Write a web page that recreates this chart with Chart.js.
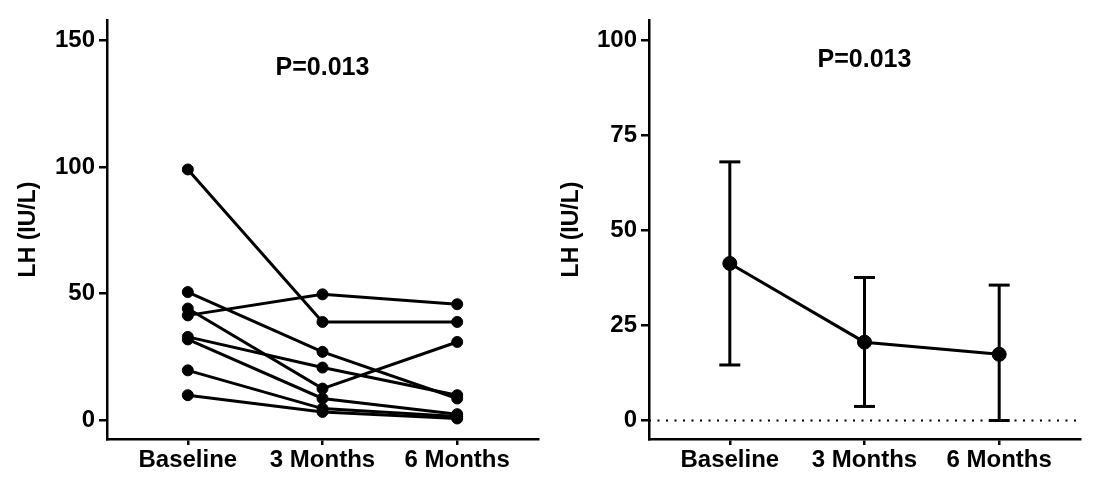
<!DOCTYPE html>
<html><head><meta charset="utf-8">
<script src="https://cdn.jsdelivr.net/npm/chart.js@4.4.1/dist/chart.umd.min.js"></script>
<style>
html,body{margin:0;padding:0;background:#fff;width:1100px;height:495px;overflow:hidden}
.p{position:absolute;top:0;width:550px;height:495px}
canvas{display:block}
</style></head><body>
<div class="p" style="left:0"><canvas id="c1" width="550" height="495"></canvas></div>
<div class="p" style="left:550px"><canvas id="c2" width="550" height="495"></canvas></div>
<script>
// ---- data ----
const categories = ['Baseline', '3 Months', '6 Months'];
const subject1 = [99.0, 38.8, 38.8];
const subject2 = [41.4, 49.7, 45.8];
const subject3 = [50.6, 27.0, 8.6];
const subject4 = [32.9, 20.8, 9.9];
const subject5 = [44.1, 12.5, 30.9];
const subject6 = [31.9, 8.6, 2.4];
const subject7 = [19.7, 4.6, 1.5];
const subject8 = [9.9, 3.3, 0.7];
const subjects = [subject1, subject2, subject3, subject4, subject5, subject6, subject7, subject8];

const meanLH = [41.3, 20.6, 17.4];
const errUpper = [68.0, 37.6, 35.6];
const errLower = [14.6, 3.7, 0.0];

const leftTicks = [0, 50, 100, 150];
const rightTicks = [0, 25, 50, 75, 100];
const yTitle = 'LH (IU/L)';
const pLabel = 'P=0.013';

// ---- styling / helpers ----
const FONT = '"Liberation Sans", Arial, Helvetica, sans-serif';
const BLACK = '#000';

const pTextPlugin = {
  id: 'pText',
  afterDraw(chart, args, opts) {
    const ctx = chart.ctx;
    const x = chart.scales.x.getPixelForValue(1);
    ctx.save();
    ctx.font = 'bold 25px ' + FONT;
    ctx.fillStyle = BLACK;
    ctx.textAlign = 'center';
    ctx.textBaseline = 'middle';
    ctx.fillText(opts.text, x, opts.y);
    ctx.restore();
  }
};

function toPoints(arr) { return arr.map((v, i) => ({x: i, y: v})); }

function makeScales(yMin, yMax, yTicks, yWidth, titlePad) {
  return {
    x: {
      type: 'linear', min: -0.6, max: 2.6,
      afterBuildTicks: s => { s.ticks = categories.map((c, i) => ({value: i})); },
      afterFit: s => { s.height = 56; },
      ticks: {callback: v => categories[v], color: BLACK, font: {family: FONT, size: 24, weight: 'bold'},
              padding: 1, maxRotation: 0, autoSkip: false},
      grid: {display: true, drawOnChartArea: false, drawTicks: true, tickLength: 6, color: BLACK, lineWidth: 2.5},
      border: {display: true, color: BLACK, width: 2.5}
    },
    y: {
      type: 'linear', min: yMin, max: yMax,
      afterBuildTicks: s => { s.ticks = yTicks.map(v => ({value: v})); },
      afterFit: s => { s.width = yWidth; },
      ticks: {color: BLACK, font: {family: FONT, size: 24, weight: 'bold'}, padding: 4},
      grid: {display: true, drawOnChartArea: false, drawTicks: true, tickLength: 8, color: BLACK, lineWidth: 2.5},
      border: {display: true, color: BLACK, width: 2.5},
      title: {display: true, text: yTitle, color: BLACK, font: {family: FONT, size: 23, weight: 'bold'},
              padding: {top: titlePad, bottom: 0}}
    }
  };
}

const common = {
  responsive: false, animation: false, events: [], devicePixelRatio: 1,
  plugins: {legend: {display: false}, tooltip: {enabled: false}}
};

// ---- left panel: individual subjects ----
new Chart(document.getElementById('c1'), {
  type: 'line',
  data: {
    datasets: subjects.map(s => ({
      data: toPoints(s), showLine: true, borderColor: BLACK, borderWidth: 3,
      pointRadius: 5.5, pointBorderWidth: 1, pointBackgroundColor: BLACK, pointBorderColor: BLACK,
      clip: false, tension: 0
    }))
  },
  options: Object.assign({}, common, {
    layout: {padding: {left: 0, right: 12, top: 20, bottom: 0}},
    scales: makeScales(-7.4, 158.0, leftTicks, 107, 14.5),
    plugins: Object.assign({}, common.plugins, {pText: {text: pLabel, y: 68}})
  }),
  plugins: [pTextPlugin]
});

// ---- right panel: mean with error bars ----
const rightDatasets = [{
  data: toPoints(meanLH), showLine: true, borderColor: BLACK, borderWidth: 3,
  pointRadius: 7, pointBorderWidth: 1, pointBackgroundColor: BLACK, pointBorderColor: BLACK,
  clip: false, tension: 0
}];
categories.forEach((c, i) => {
  rightDatasets.push({
    data: [{x: i, y: errLower[i]}, {x: i, y: errUpper[i]}], showLine: true,
    borderColor: BLACK, borderWidth: 3,
    pointStyle: 'line', pointRadius: 10.5, pointBorderWidth: 3, pointBorderColor: BLACK,
    clip: false
  });
});
rightDatasets.push({
  data: [{x: -0.6, y: 0}, {x: 2.6, y: 0}], showLine: true,
  borderColor: BLACK, borderWidth: 2, borderDash: [2, 6.5], pointRadius: 0, clip: false
});

new Chart(document.getElementById('c2'), {
  type: 'line',
  data: {datasets: rightDatasets},
  options: Object.assign({}, common, {
    layout: {padding: {left: 0, right: 20, top: 20, bottom: 0}},
    scales: makeScales(-4.86, 105.3, rightTicks, 99, 7.5),
    plugins: Object.assign({}, common.plugins, {pText: {text: pLabel, y: 60.5}})
  }),
  plugins: [pTextPlugin]
});
</script>
</body></html>
